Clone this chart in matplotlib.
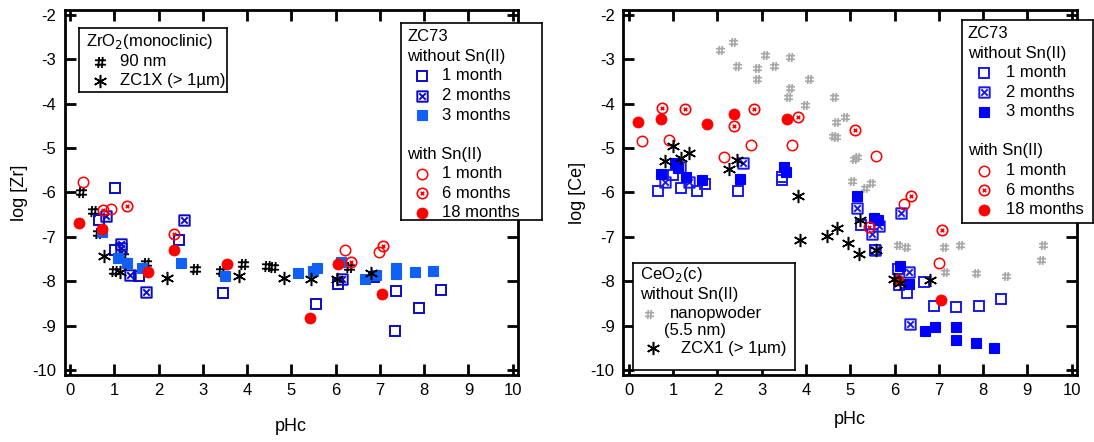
import numpy as np
import matplotlib
matplotlib.use('Agg')
from matplotlib import pyplot as plt
from matplotlib.path import Path

plt.rcParams['font.family'] = ['Liberation Sans', 'DejaVu Sans']
plt.rcParams['axes.unicode_minus'] = False

# ---- left panel: Zr ----
zr_hash_ph = [0.25, 0.52, 0.62, 1.19, 1.72, 1.0, 2.82, 3.4, 3.91, 4.45, 4.59, 6.3]
zr_hash_log = [-5.99, -6.42, -6.91, -7.44, -7.59, -7.76, -7.72, -7.76, -7.62, -7.65, -7.68, -7.67]
zr_ast_ph = [0.77, 1.13, 2.18, 3.82, 4.83, 5.45, 6.02, 6.79]
zr_ast_log = [-7.44, -7.78, -7.93, -7.89, -7.93, -7.95, -7.94, -7.82]

zr_b1_ph = [1.01, 0.65, 2.46, 1.01, 1.56, 3.45, 5.55, 6.06, 6.87, 7.37, 7.34, 7.89, 8.39]
zr_b1_log = [-5.89, -6.62, -7.07, -7.29, -7.89, -8.27, -8.51, -8.06, -7.91, -8.22, -9.13, -8.6, -8.19]
zr_b2_ph = [0.81, 2.56, 1.15, 1.15, 1.35, 1.71, 6.15]
zr_b2_log = [-6.54, -6.62, -7.16, -7.25, -7.86, -8.23, -7.95]
zr_b3_ph = [0.72, 1.08, 1.28, 1.62, 2.5, 3.5, 5.15, 5.49, 5.58, 6.11, 6.66, 6.92, 7.36, 7.36, 7.8, 8.2]
zr_b3_log = [-6.88, -7.48, -7.58, -7.7, -7.58, -7.89, -7.81, -7.76, -7.71, -7.56, -7.95, -7.86,
             -7.71, -7.83, -7.8, -7.77]

zr_r1_ph = [0.28, 0.92, 6.21, 6.98]
zr_r1_log = [-5.77, -6.38, -7.29, -7.33]
zr_r6_ph = [0.75, 1.28, 2.35, 6.34, 7.06]
zr_r6_log = [-6.39, -6.3, -6.93, -7.56, -7.2]
zr_r18_ph = [0.2, 0.71, 1.75, 2.35, 3.55, 5.43, 6.06, 7.04]
zr_r18_log = [-6.69, -6.82, -7.8, -7.3, -7.61, -8.82, -7.61, -8.28]

# ---- right panel: Ce ----
ce_hash_ph = [2.05, 2.35, 2.44, 2.9, 2.9, 3.08, 3.29, 3.64, 3.64, 3.59, 4.08, 3.99, 4.63, 4.88,
              4.69, 4.6, 4.69, 5.03, 5.09, 5.16, 5.33, 5.48, 6.07, 6.27, 7.11, 7.47, 7.13, 7.85,
              8.51, 9.36, 9.3]
ce_hash_log = [-2.79, -2.6, -3.14, -3.2, -3.44, -2.9, -3.14, -2.94, -3.64, -3.84, -3.44, -4.04,
               -3.84, -4.31, -4.42, -4.72, -4.76, -5.75, -5.25, -5.2, -5.9, -5.79, -7.19, -7.23,
               -7.23, -7.19, -7.78, -7.82, -7.88, -7.18, -7.53]
ce_ast_ph = [0.82, 0.99, 1.19, 1.35, 2.27, 2.44, 3.82, 3.86, 4.48, 4.71, 4.94, 5.2, 5.22, 5.58,
             5.99, 6.13, 6.81]
ce_ast_log = [-5.3, -4.95, -5.23, -5.1, -5.48, -5.27, -6.09, -7.08, -6.99, -6.8, -7.13, -7.38,
              -6.62, -7.29, -7.95, -8.04, -7.97]

ce_b1_ph = [0.65, 1.0, 1.19, 1.55, 1.72, 2.46, 3.46, 3.46, 5.25, 6.07, 6.11, 6.28, 6.66, 6.89,
            7.38, 7.9, 8.41, 5.56]
ce_b1_log = [-5.96, -5.6, -5.9, -5.96, -5.81, -5.96, -5.64, -5.72, -6.73, -7.72, -8.08, -8.27,
             -8.01, -8.55, -8.57, -8.55, -8.4, -7.29]
ce_b2_ph = [0.82, 1.16, 1.37, 2.57, 5.15, 5.5, 5.56, 5.65, 6.14, 6.32, 6.35]
ce_b2_log = [-5.77, -5.42, -5.77, -5.33, -6.34, -6.94, -7.29, -6.75, -6.46, -7.8, -8.97]
ce_b3_ph = [0.72, 1.04, 1.12, 1.29, 1.65, 2.52, 3.51, 3.56, 5.16, 5.54, 5.62, 6.12, 6.32, 6.69,
            6.92, 7.39, 7.39, 7.85, 8.25]
ce_b3_log = [-5.59, -5.34, -5.45, -5.64, -5.72, -5.7, -5.42, -5.53, -6.09, -6.58, -6.62, -7.65,
             -8.07, -9.11, -9.04, -9.02, -9.32, -9.39, -9.51]

ce_r1_ph = [0.29, 0.91, 2.15, 2.77, 3.68, 5.59, 6.22, 7.01]
ce_r1_log = [-4.84, -4.82, -5.2, -4.93, -4.94, -5.17, -6.26, -7.59]
ce_r6_ph = [0.76, 1.27, 2.83, 2.37, 3.82, 5.11, 6.38, 7.07, 5.42]
ce_r6_log = [-4.09, -4.12, -4.12, -4.5, -4.29, -4.59, -6.09, -6.84, -6.78]
ce_r18_ph = [0.21, 0.72, 1.76, 2.37, 3.58, 6.07, 7.05]
ce_r18_log = [-4.42, -4.35, -4.45, -4.23, -4.34, -7.97, -8.42]

xticks = list(range(0, 11))
yticks = list(range(-10, -1))


def hash_path():
    a = 0.4
    v = [(-a, -1), (-a + 0.15, 1), (a - 0.15, -1), (a, 1), (-1, -a), (1, -a), (-1, a), (1, a)]
    return Path(v, [Path.MOVETO, Path.LINETO] * 4)


def sqx_path():
    b = 0.62
    v = [(-1, -1), (1, -1), (1, 1), (-1, 1), (-1, -1),
         (-b, -b), (b, b), (-b, b), (b, -b)]
    c = [Path.MOVETO, Path.LINETO, Path.LINETO, Path.LINETO, Path.CLOSEPOLY,
         Path.MOVETO, Path.LINETO, Path.MOVETO, Path.LINETO]
    return Path(v, c)


def circx_path():
    b = 0.32
    xs = Path([(-b, -b), (b, b), (-b, b), (b, -b)],
              [Path.MOVETO, Path.LINETO, Path.MOVETO, Path.LINETO])
    return Path.make_compound_path(Path.unit_circle(), xs)


HASH = hash_path()
SQX = sqx_path()
CIRCX = circx_path()

red = '#ff0000'


def styles(panel):
    if panel == 'zr':
        bedge = '#0a0acc'
        bfill = '#1060f5'
        hstyle = dict(marker=HASH, ms=8, mew=1.3, color='black')
    else:
        bedge = '#1a1aee'
        bfill = '#0000ff'
        hstyle = dict(marker=HASH, ms=6.5, mew=1.2, color='#a8a8a8')
    return {
        'hash': hstyle,
        'ast': dict(marker=(6, 2, 0), ms=9.5, mew=1.1, color='black'),
        'b1': dict(marker='s', ms=7, mew=1.4, mec=bedge, mfc='none'),
        'b2': dict(marker=SQX, ms=7.5, mew=1.4, mec=bedge, mfc='none'),
        'b3': dict(marker='s', ms=7.5, mew=0.8, mec=bfill, mfc=bfill),
        'r1': dict(marker='o', ms=7.5, mew=1.1, mec=red, mfc='none'),
        'r6': dict(marker=CIRCX, ms=7.5, mew=1.2, mec=red, mfc='none'),
        'r18': dict(marker='o', ms=8, mew=0.5, mec=red, mfc=red),
    }


def setup_axes(ax, ylabel, labelpad):
    ax.set_xlim(-0.13, 10.12)
    ax.set_ylim(-10.11, -1.89)
    ax.set_xticks(xticks)
    ax.set_yticks(yticks)
    for s in ax.spines.values():
        s.set_linewidth(2)
    ax.tick_params(direction='in', length=8, width=2, top=True, right=True,
                   labelsize=12, pad=6)
    ax.set_xlabel('pHc', fontsize=13, labelpad=labelpad)
    ax.set_ylabel(ylabel, fontsize=13, labelpad=3)


fig = plt.figure(figsize=(10.94, 4.42), dpi=100)
W, H = 1094, 442


def box(x0, y0, x1, y1):
    return [x0 / W, 1 - y1 / H, (x1 - x0) / W, (y1 - y0) / H]


ax1 = fig.add_axes(box(64.5, 10, 518, 375))
ax2 = fig.add_axes(box(623, 10, 1077, 375))

panels = [
    (ax1, 'zr', [(zr_hash_ph, zr_hash_log, 'hash'), (zr_b1_ph, zr_b1_log, 'b1'),
                 (zr_b2_ph, zr_b2_log, 'b2'), (zr_b3_ph, zr_b3_log, 'b3'),
                 (zr_r1_ph, zr_r1_log, 'r1'), (zr_r6_ph, zr_r6_log, 'r6'),
                 (zr_r18_ph, zr_r18_log, 'r18'), (zr_ast_ph, zr_ast_log, 'ast')]),
    (ax2, 'ce', [(ce_hash_ph, ce_hash_log, 'hash'), (ce_b1_ph, ce_b1_log, 'b1'),
                 (ce_b2_ph, ce_b2_log, 'b2'), (ce_b3_ph, ce_b3_log, 'b3'),
                 (ce_r1_ph, ce_r1_log, 'r1'), (ce_r6_ph, ce_r6_log, 'r6'),
                 (ce_r18_ph, ce_r18_log, 'r18'), (ce_ast_ph, ce_ast_log, 'ast')]),
]

for ax, name, series in panels:
    st = styles(name)
    for xs, ys, key in series:
        ax.plot(xs, ys, ls='none', **st[key])

setup_axes(ax1, 'log [Zr]', 14)
setup_axes(ax2, 'log [Ce]', 9)


def legend_box(x0, y0, x1, y1, rows, st):
    """rows: (y, marker x, text x, text, style key) in pixel coords"""
    lax = fig.add_axes(box(x0, y0, x1, y1))
    lax.set_xlim(x0, x1)
    lax.set_ylim(y1, y0)
    lax.set_xticks([])
    lax.set_yticks([])
    for s in lax.spines.values():
        s.set_linewidth(1.2)
    for y, mx, tx, text, key in rows:
        if key is not None:
            lax.plot([mx], [y], ls='none', clip_on=False, **st[key])
        lax.text(tx, y, text, fontsize=12, va='center', ha='left')
    return lax


st_zr = styles('zr')
st_ce = styles('ce')

legend_box(79, 28, 227, 92, [
    (41.7, None, 86, 'ZrO$_2$(monoclinic)', None),
    (61.7, 100, 120, '90 nm', 'hash'),
    (80.5, 100, 120, 'ZC1X (> 1µm)', 'ast'),
], st_zr)

legend_box(400.5, 22.5, 541.5, 220, [
    (36.7, None, 407, 'ZC73', None),
    (56.2, None, 407, 'without Sn(II)', None),
    (75.5, 422, 442, '1 month', 'b1'),
    (95.5, 422, 442, '2 months', 'b2'),
    (115, 422, 442, '3 months', 'b3'),
    (154, None, 407, 'with Sn(II)', None),
    (174, 422, 442, '1 month', 'r1'),
    (193, 422, 442, '6 months', 'r6'),
    (212.5, 422, 442, '18 months', 'r18'),
], st_zr)

legend_box(961.5, 19.5, 1093, 222.5, [
    (33.5, None, 968, 'ZC73', None),
    (53, None, 968, 'without Sn(II)', None),
    (72.5, 984, 1006, '1 month', 'b1'),
    (92, 984, 1006, '2 months', 'b2'),
    (111.5, 984, 1006, '3 months', 'b3'),
    (151, None, 968, 'with Sn(II)', None),
    (170.5, 984, 1006, '1 month', 'r1'),
    (190, 984, 1006, '6 months', 'r6'),
    (209.5, 984, 1006, '18 months', 'r18'),
], st_ce)

legend_box(633, 263, 795.5, 370, [
    (275, None, 640, 'CeO$_2$(c)', None),
    (295, None, 640, 'without Sn(II)', None),
    (313.5, 649, 670, 'nanopwoder', 'hash'),
    (330.5, None, 664, '(5.5 nm)', None),
    (348, 653, 681, 'ZCX1 (> 1µm)', 'ast'),
], st_ce)

fig.savefig('out.png', dpi=100)
